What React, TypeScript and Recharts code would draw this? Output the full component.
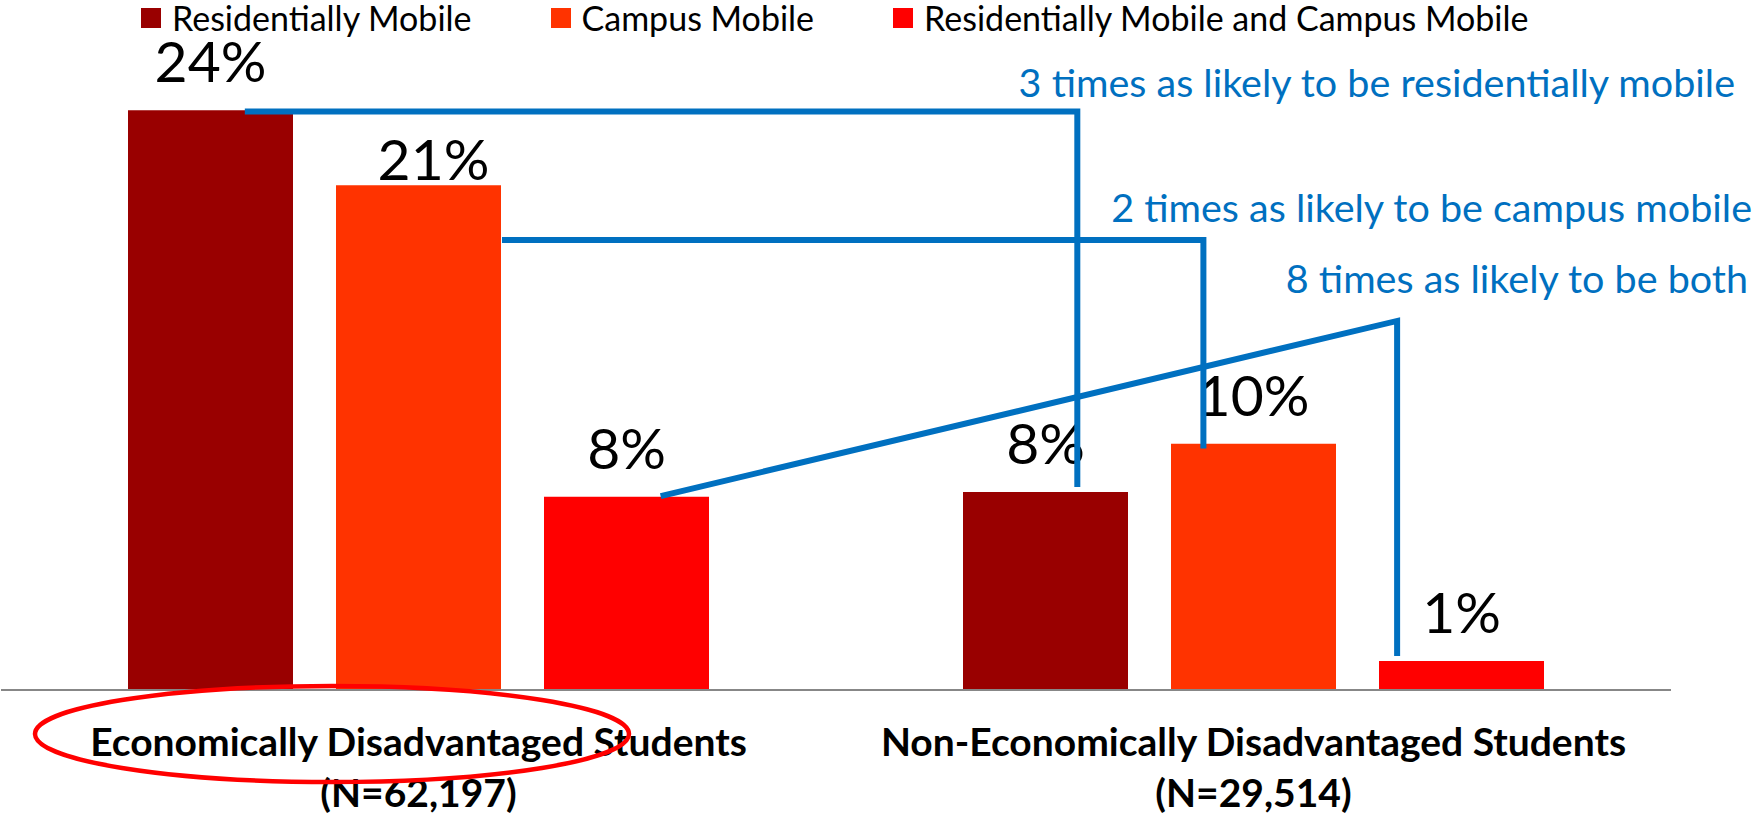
import React from "react";
import { BarChart, Bar, XAxis, YAxis, LabelList } from "recharts";

// categories (two lines each)
const categories = [
  "Economically Disadvantaged Students",
  "Non-Economically Disadvantaged Students",
];
const categorySizes = ["(N=62,197)", "(N=29,514)"];

// series
const seriesNames = [
  "Residentially Mobile",
  "Campus Mobile",
  "Residentially Mobile and Campus Mobile",
];
const seriesColors = ["#990000", "#FF3300", "#FF0000"];
const residentiallyMobile = [24, 8.2];
const campusMobile = [20.9, 10.2];
const bothMobile = [8, 1.2];

// callout connector paths, x in category units (0..2), y in percent
const calloutResidential = [
  [0.292, 23.95],
  [1.289, 23.95],
  [1.289, 8.4],
];
const calloutCampus = [
  [0.6, 18.63],
  [1.44, 18.63],
  [1.44, 10.0],
];
const calloutBoth = [
  [0.79, 8.03],
  [1.672, 15.28],
  [1.672, 1.41],
];
const calloutTexts = [
  "3 times as likely to be residentially mobile",
  "2 times as likely to be campus mobile",
  "8 times as likely to be both",
];

const seriesKeys = ["res", "campus", "both"];
const data = categories.map((name, i) => ({
  name,
  res: residentiallyMobile[i],
  campus: campusMobile[i],
  both: bothMobile[i],
}));

const W = 1758;
const H = 817;
const MARGIN = { top: 62, right: 87, left: 1, bottom: 27 };
const AXIS_H = 100;
const Y_MAX = 26;
const FONT = "Lato, 'Open Sans', sans-serif";
const BLUE = "#0070C0";

// same mapping the chart uses: category band units -> px, percent -> px
const plotW = W - MARGIN.left - MARGIN.right;
const plotH = H - MARGIN.top - MARGIN.bottom - AXIS_H;
const px = (u: number) => MARGIN.left + (u / categories.length) * plotW;
const py = (v: number) => MARGIN.top + plotH - (v / Y_MAX) * plotH;

const CategoryTick = ({ x, y, payload, index }: any) => (
  <g>
    <text
      x={x}
      y={y + 66}
      textAnchor="middle"
      fontFamily={FONT}
      fontWeight={700}
      fontSize={39}
      fill="#000"
    >
      {payload.value}
    </text>
    <text
      x={x}
      y={y + 117}
      textAnchor="middle"
      fontFamily={FONT}
      fontWeight={700}
      fontSize={39}
      fill="#000"
    >
      {categorySizes[index]}
    </text>
  </g>
);

// value labels sit ~28px above each bar; the 21% label was nudged in the original
const makeLabel =
  (seriesKey: string) =>
  ({ x, y, width, value, index }: any) => {
    let dx = 0;
    let gap = 28;
    if (seriesKey === "campus" && index === 0) {
      dx = 15;
      gap = 5;
    }
    return (
      <text
        x={x + width / 2 + dx}
        y={y - gap}
        textAnchor="middle"
        fontFamily={FONT}
        fontSize={57}
        fill="#000"
      >
        {Math.round(value)}%
      </text>
    );
  };

function TopLegend() {
  return (
    <div
      style={{
        position: "absolute",
        left: 141,
        top: 0,
        display: "flex",
        alignItems: "center",
        fontFamily: FONT,
        fontSize: 34,
        color: "#000",
        height: 36,
        whiteSpace: "nowrap",
      }}
    >
      {seriesNames.map((name, i) => (
        <div
          key={name}
          style={{
            display: "flex",
            alignItems: "center",
            marginRight: i < seriesNames.length - 1 ? 79 : 0,
          }}
        >
          <span
            style={{
              width: 20,
              height: 20,
              background: seriesColors[i],
              display: "inline-block",
              marginRight: 11,
            }}
          />
          <span style={{ lineHeight: "36px" }}>{name}</span>
        </div>
      ))}
    </div>
  );
}

export default function App() {
  const callouts = [calloutResidential, calloutCampus, calloutBoth];
  return (
    <div
      style={{
        position: "absolute",
        left: 0,
        top: 0,
        width: W,
        height: H,
        background: "#fff",
      }}
    >
      <BarChart
        width={W}
        height={H}
        data={data}
        margin={MARGIN}
        barCategoryGap={127}
        barGap={43}
      >
        <XAxis
          dataKey="name"
          axisLine={{ stroke: "#878787", strokeWidth: 2 }}
          tickLine={false}
          tickSize={0}
          tickMargin={0}
          height={AXIS_H}
          interval={0}
          tick={<CategoryTick />}
        />
        <YAxis domain={[0, Y_MAX]} hide />
        {seriesKeys.map((key, i) => (
          <Bar
            key={key}
            dataKey={key}
            name={seriesNames[i]}
            fill={seriesColors[i]}
            isAnimationActive={false}
          >
            <LabelList dataKey={key} content={makeLabel(key)} />
          </Bar>
        ))}
      </BarChart>
      <TopLegend />
      <svg
        width={W}
        height={H}
        style={{ position: "absolute", left: 0, top: 0, pointerEvents: "none" }}
      >
        {callouts.map((path, i) => (
          <polyline
            key={i}
            points={path.map(([u, v]) => `${px(u)},${py(v)}`).join(" ")}
            fill="none"
            stroke={BLUE}
            strokeWidth={6}
            strokeLinejoin="miter"
          />
        ))}
        <text x={1735} y={97} textAnchor="end" fontFamily={FONT} fontSize={39.5} fill={BLUE}>
          {calloutTexts[0]}
        </text>
        <text x={1752} y={222} textAnchor="end" fontFamily={FONT} fontSize={39.5} fill={BLUE}>
          {calloutTexts[1]}
        </text>
        <text x={1748} y={293} textAnchor="end" fontFamily={FONT} fontSize={39.5} fill={BLUE}>
          {calloutTexts[2]}
        </text>
        <ellipse
          cx={332}
          cy={734}
          rx={297}
          ry={48}
          fill="none"
          stroke="#FF0000"
          strokeWidth={4.5}
        />
      </svg>
    </div>
  );
}
